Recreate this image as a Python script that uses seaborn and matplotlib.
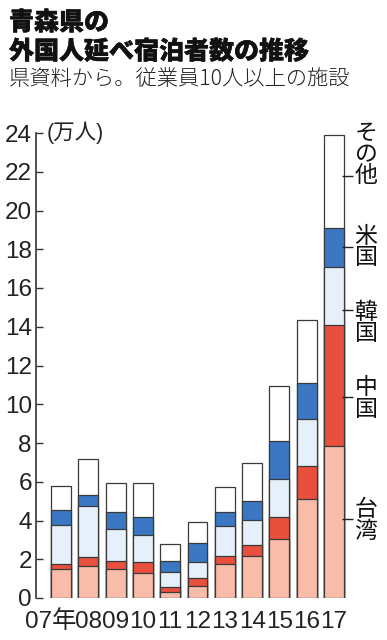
import matplotlib
matplotlib.use("Agg")
import matplotlib.patheffects as pe
import matplotlib.pyplot as plt
import matplotlib.transforms as mtransforms
import numpy as np
import pandas as pd
import seaborn as sns

# 年（2007〜2017）ごとの国・地域別 延べ宿泊者数（万人）
YEARS = ["07", "08", "09", "10", "11", "12", "13", "14", "15", "16", "17"]
TAIWAN = [1.48, 1.63, 1.51, 1.27, 0.29, 0.62, 1.74, 2.18, 3.06, 5.12, 7.84]
CHINA = [0.26, 0.47, 0.41, 0.57, 0.26, 0.41, 0.42, 0.54, 1.13, 1.70, 6.27]
KOREA = [2.02, 2.66, 1.64, 1.41, 0.81, 0.84, 1.57, 1.32, 1.93, 2.42, 2.99]
USA = [0.78, 0.55, 0.86, 0.94, 0.56, 0.98, 0.69, 0.99, 1.97, 1.86, 2.01]
OTHER = [1.25, 1.85, 1.49, 1.72, 0.85, 1.08, 1.29, 1.93, 2.87, 3.23, 4.80]

SERIES = ["台湾", "中国", "韓国", "米国", "その他"]
COLORS = ["#f8bca9", "#e8503d", "#e6f0fa", "#3b77c3", "#ffffff"]
X_LABELS = ["07年"] + YEARS[1:]
Y_TICKS = list(range(0, 25, 2))

# 右側の縦書きラベル：文字の中心と引き出し線の高さ（万人）
LABEL_CENTER = [4.0, 10.3, 14.2, 18.1, 22.9]
LABEL_LEADER = [4.1, 10.4, 14.85, 18.1, 21.8]

CJK = "Noto Sans CJK JP"


def main() -> None:
    sns.set_theme(style="white")
    plt.rcParams["font.family"] = ["Liberation Sans", CJK, "DejaVu Sans"]

    df = pd.DataFrame(
        {"year": YEARS, "台湾": TAIWAN, "中国": CHINA, "韓国": KOREA,
         "米国": USA, "その他": OTHER}
    )
    cum = df[SERIES].cumsum(axis=1)

    fig = plt.figure(figsize=(3.87, 6.40), dpi=100)
    ax = fig.add_axes([36 / 387, 42 / 640, 351 / 387, 465 / 640])

    # 積み上げは累計を上の層から順に重ね描き
    for name, color in reversed(list(zip(SERIES, COLORS))):
        sns.barplot(
            x=df["year"], y=cum[name], order=YEARS, color=color,
            saturation=1, width=0.73, edgecolor="#3a3a3a", linewidth=0.9,
            errorbar=None, ax=ax,
        )

    ax.set_xlim(-0.916, 11.94)
    ax.set_ylim(0, 24)
    ax.set_xlabel("")
    ax.set_ylabel("")

    for side in ["top", "right", "bottom"]:
        ax.spines[side].set_visible(False)
    ax.spines["left"].set_color("#333333")
    ax.spines["left"].set_linewidth(1.2)
    ax.spines["left"].set_bounds(0, 24)

    ax.set_yticks(Y_TICKS)
    ax.set_yticklabels([str(t) for t in Y_TICKS])
    ax.tick_params(axis="y", direction="in", length=5, width=1.0,
                   color="#333333", labelsize=17.5, pad=3, left=True,
                   labelcolor="#222222")
    ax.set_xticks(range(len(YEARS)))
    ax.set_xticklabels(X_LABELS)
    ax.tick_params(axis="x", length=0, labelsize=17.5, pad=9,
                   labelcolor="#222222")
    first = ax.get_xticklabels()[0]
    first.set_transform(first.get_transform() + mtransforms.ScaledTranslation(
        -10 / 100, 0, fig.dpi_scale_trans))
    ax.grid(False)

    ax.text(-0.52, 24, "(万人)", fontsize=15.5, color="#222222",
            ha="left", va="center")

    # 縦書きラベルと引き出し線
    last = len(YEARS) - 1
    for name, yc, yl in zip(SERIES, LABEL_CENTER, LABEL_LEADER):
        ax.plot([last + 0.3, last + 0.7], [yl, yl], color="#222222",
                lw=1.0, solid_capstyle="butt", clip_on=False)
        ax.text(last + 1.17, yc, "\n".join(name), fontsize=16.5,
                family=[CJK], color="#111111", ha="center", va="center",
                linespacing=0.9)

    fig.text(9 / 387, 1 - 9 / 640, "青森県の\n外国人延べ宿泊者数の推移",
             fontsize=18, fontweight="heavy", family=[CJK], color="#111111",
             ha="left", va="top", linespacing=1.15,
             path_effects=[pe.withStroke(linewidth=0.35, foreground="#111111")])
    fig.text(9 / 387, 1 - 79 / 640, "県資料から。従業員10人以上の施設",
             fontsize=15.3, fontweight="light", family=[CJK], color="#222222",
             ha="left", va="center")

    fig.savefig("out.png", dpi=100)
    plt.close(fig)


if __name__ == "__main__":
    main()
